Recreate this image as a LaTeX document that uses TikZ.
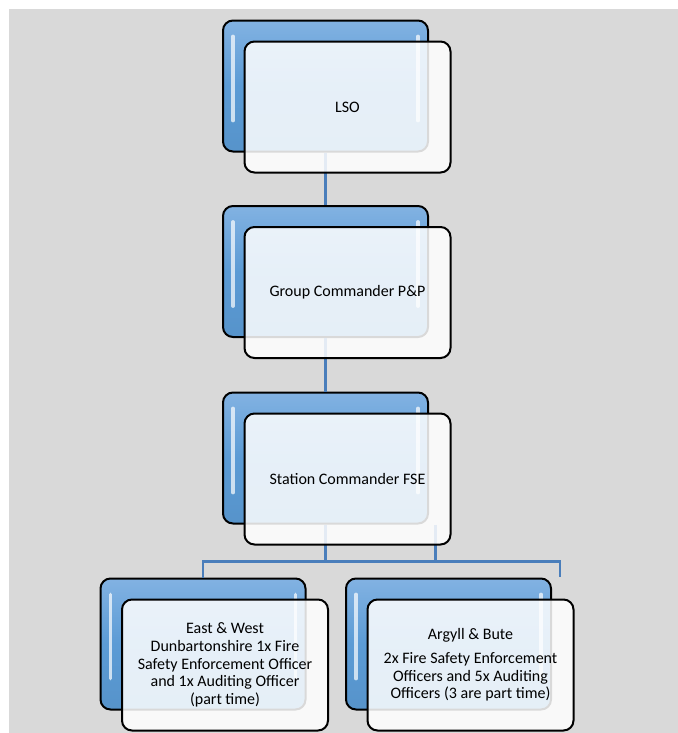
\documentclass[tikz,border=0pt]{standalone}
\usepackage{fontspec}
\setmainfont{Carlito}
\usetikzlibrary{calc}
\definecolor{boxblue}{RGB}{91,155,213}
\definecolor{boxtop}{RGB}{130,178,226}
\definecolor{linkblue}{RGB}{74,126,187}
\definecolor{pagegray}{RGB}{217,217,217}
\tikzstyle{back}                 = [draw=black,line width=1.5pt,rounded corners=7.5pt,
                                    minimum width=153.75pt,minimum height=98.25pt,
                                    inner sep=0pt,top color=boxtop,bottom color=boxblue!95!black,
                                    middle color=boxblue]
\tikzstyle{front}                = [draw=black,line width=1.5pt,rounded corners=7.5pt,
                                    minimum width=154.5pt,minimum height=98.25pt,
                                    inner sep=0pt,fill=white,fill opacity=0.85,text opacity=1,
                                    align=center,font=\fontsize{12}{13.2}\selectfont]
\tikzstyle{link}                 = [draw=linkblue,line width=2pt]
\tikzset{gloss/.style={draw=white,draw opacity=0.7,line width=2.8pt,line cap=round}}

\begin{document}
\begin{tikzpicture}[x=0.75pt,y=-0.75pt]
        \useasboundingbox (0,0) rectangle (678,733);
        \fill[pagegray] (9,9) rectangle (678,733);

        % Back boxes
        \node[back] (lsoBack)  at (325.5,86)  {};
        \node[back] (gcpBack)  at (325.5,271.5) {};
        \node[back] (scfBack)  at (325.5,458) {};
        \node[back] (eastBack) at (203,644)   {};
        \node[back] (argBack)  at (448.5,644) {};

        % Gloss strips
        \foreach \b in {lsoBack,gcpBack,scfBack,eastBack,argBack} {
            \draw[gloss] ($(\b.north west)+(11,17)$) -- ($(\b.south west)+(11,-32)$);
            \draw[gloss] ($(\b.north east)+(-11,17)$) -- ($(\b.south east)+(-11,-32)$);
        }

        % Connectors
        \draw[link] (lsoBack.south) -- (gcpBack.north);
        \draw[link] (gcpBack.south) -- (scfBack.north);
        \coordinate (bus)  at ($(scfBack.south)+(0,37)$);
        \coordinate (tap)  at ($(scfBack.south)+(110,0)$);
        \coordinate (stub) at ($(argBack.north east)+(8,-1)$);
        \draw[link] (scfBack.south) -- (bus);
        \draw[link] (tap) -- (tap |- bus);
        \draw[link] (eastBack.north) |- (bus) -| (stub);

        % Front boxes
        \node[front] (lso)  at ($(lsoBack.center)+(22,21)$)  {LSO};
        \node[front] (gcp)  at ($(gcpBack.center)+(22,21)$)  {Group Commander P\&P};
        \node[front] (scf)  at ($(scfBack.center)+(22,21)$)  {Station Commander FSE};
        \node[front] (east) at ($(eastBack.center)+(22,21)$) {East \& West\\ Dunbartonshire 1x Fire\\ Safety Enforcement Officer\\ and 1x Auditing Officer\\ (part time)};
        \node[front] (arg)  at ($(argBack.center)+(22,21)$)  {Argyll \& Bute\\[4.5pt] 2x Fire Safety Enforcement\\ Officers and 5x Auditing\\ Officers (3 are part time)};
\end{tikzpicture}
\end{document}
